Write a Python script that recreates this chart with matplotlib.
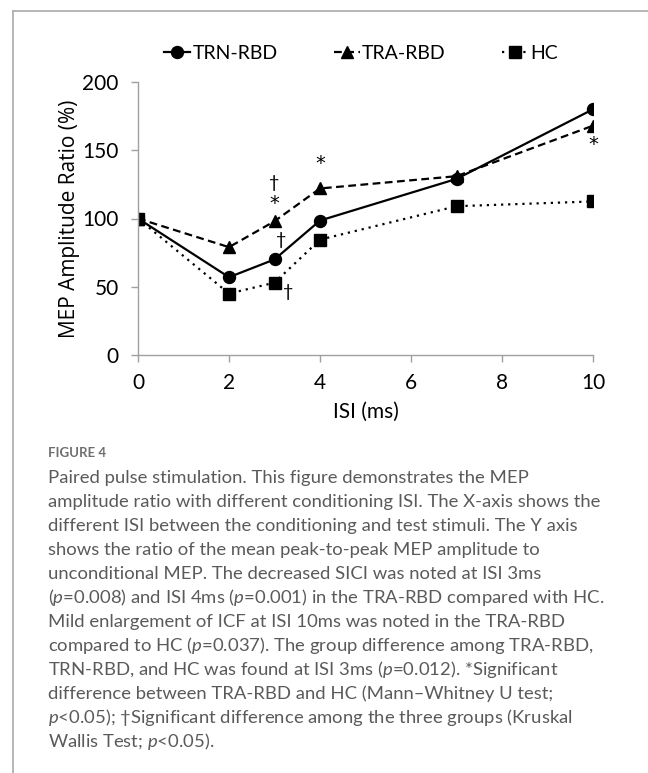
import matplotlib
matplotlib.use("Agg")
import matplotlib.pyplot as plt
from matplotlib.lines import Line2D

# ---- data ----
isi = [0, 2, 3, 4, 7, 10]
trn_rbd = [100, 57, 70, 98.5, 129, 180]
tra_rbd = [100, 79, 98, 122, 131, 168]
hc = [100, 45, 53, 84.5, 109, 112.5]
series_names = ["TRN-RBD", "TRA-RBD", "HC"]

annot_symbols = ["\u2020", "*", "\u2020", "\u2020", "*", "*"]
annot_x = [3, 3, 3.14, 3.3, 4, 10]
annot_y = [126, 111, 84, 46, 140, 154]

xticks = [0, 2, 4, 6, 8, 10]
yticks = [0, 50, 100, 150, 200]

caption_lines = [
    "Paired pulse stimulation. This figure demonstrates the MEP",
    "amplitude ratio with different conditioning ISI. The X-axis shows the",
    "different ISI between the conditioning and test stimuli. The Y axis",
    "shows the ratio of the mean peak-to-peak MEP amplitude to",
    "unconditional MEP. The decreased SICI was noted at ISI 3ms",
    "($p$=0.008) and ISI 4ms ($p$=0.001) in the TRA-RBD compared with HC.",
    "Mild enlargement of ICF at ISI 10ms was noted in the TRA-RBD",
    "compared to HC ($p$=0.037). The group difference among TRA-RBD,",
    "TRN-RBD, and HC was found at ISI 3ms ($p$=0.012). *Significant",
    "difference between TRA-RBD and HC (Mann\u2013Whitney U test;",
    "$p$<0.05); \u2020Significant difference among the three groups (Kruskal",
    "Wallis Test; $p$<0.05).",
]

plt.rcParams['font.family'] = ['Lato', 'DejaVu Sans']
plt.rcParams['mathtext.fontset'] = 'custom'
plt.rcParams['mathtext.rm'] = 'Lato'
plt.rcParams['mathtext.it'] = 'Lato:italic'

W, H = 648, 773
fig = plt.figure(figsize=(W / 100, H / 100), dpi=100)

# frame lines
fig.add_artist(Line2D([13 / W, 1.0], [1 - 11 / H, 1 - 11 / H], color="#b0b0b0", lw=1.3))
fig.add_artist(Line2D([13 / W, 13 / W], [0, 1 - 11 / H], color="#b0b0b0", lw=1.3))

ax = fig.add_axes([138 / W, 1 - 355 / H, (593 - 138) / W, (355 - 82) / H])
ax.plot(isi, trn_rbd, color="black", lw=1.6, ls="-", marker="o", ms=8.6, label=series_names[0])
ax.plot(isi, tra_rbd, color="black", lw=1.6, ls=(0, (3.5, 2)), marker="^", ms=8.6, label=series_names[1])
ax.plot(isi, hc, color="black", lw=1.6, ls=(0, (1, 2.2)), marker="s", ms=8.6, label=series_names[2])

for s, x, y in zip(annot_symbols, annot_x, annot_y):
    ax.text(x, y, s, ha="center", va="center", fontsize=14 if s == "*" else 13,
            family=["DejaVu Sans"] if s == "*" else ["Lato", "DejaVu Sans"], color="black")

ax.set_xlim(0, 10)
ax.set_ylim(0, 200)
ax.set_xticks(xticks)
ax.set_yticks(yticks)
ax.tick_params(axis="both", colors="#a0a0a0", labelcolor="black", labelsize=15, length=5, width=1)
ax.tick_params(axis="x", pad=8)
ax.tick_params(axis="y", pad=9)
for sp in ["top", "right"]:
    ax.spines[sp].set_visible(False)
for sp in ["left", "bottom"]:
    ax.spines[sp].set_color("#a0a0a0")
    ax.spines[sp].set_linewidth(1)
ax.set_xlabel("ISI (ms)", fontsize=15, labelpad=6)
ax.set_ylabel("MEP Amplitude Ratio (%)", fontsize=15, family=["Open Sans", "DejaVu Sans"])
ax.yaxis.set_label_coords(-0.127, 0.5)
for lbl in ax.get_xticklabels() + ax.get_yticklabels():
    lbl.set_clip_on(False)

leg = ax.legend(loc="center", bbox_to_anchor=(0.49, (1 - 53 / H - (1 - 355 / H)) / ((355 - 82) / H)),
                ncol=3, frameon=False, fontsize=14, handlelength=1.35, columnspacing=2.9,
                handletextpad=0.1)

# caption
fig.text(48 / W, 1 - 453 / H, "FIGURE 4", fontsize=9.5, color="#6e6e6e", ha="left", va="center",
         fontweight="bold")
y0 = 478
for i, line in enumerate(caption_lines):
    fig.text(48 / W, 1 - (y0 + 24 * i) / H, line, fontsize=13.3, color="#5a5a5a",
             ha="left", va="center")

fig.savefig("out.png", dpi=100)
